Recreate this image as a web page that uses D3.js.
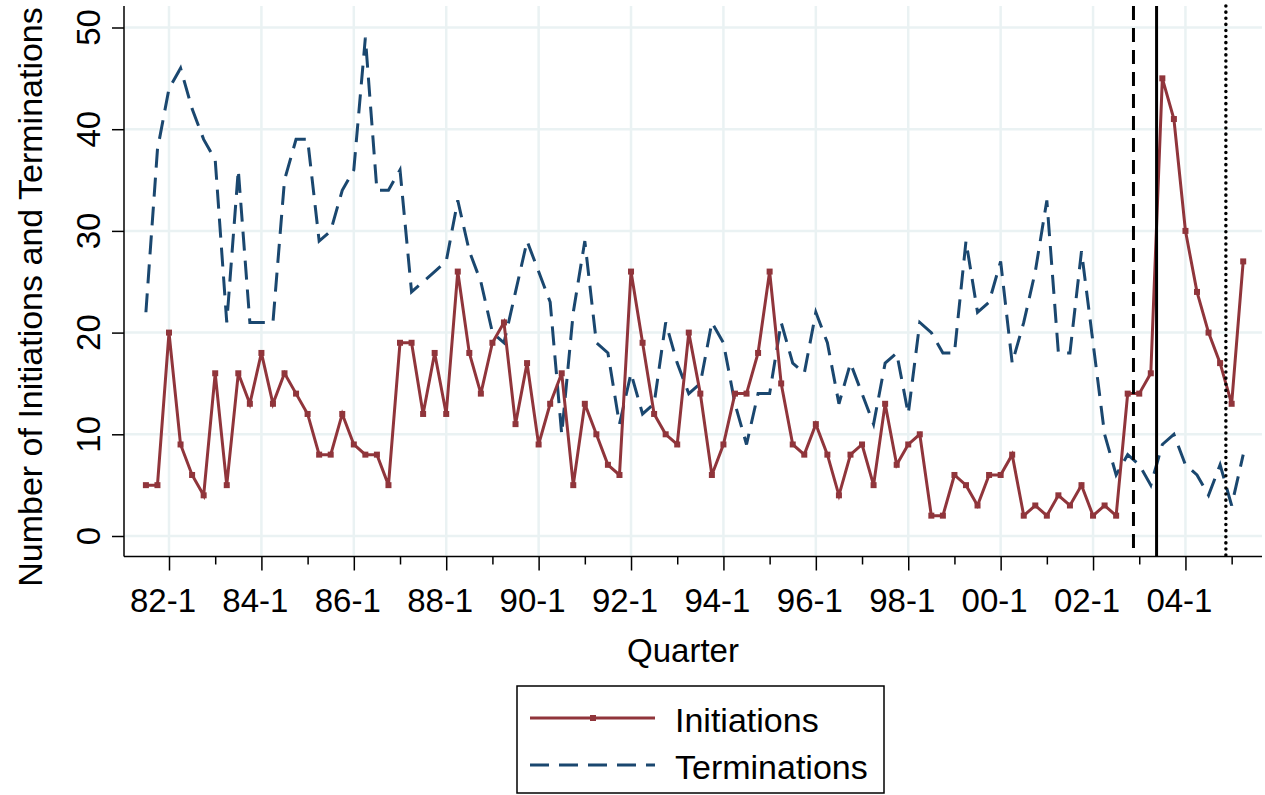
<!DOCTYPE html>
<html>
<head>
<meta charset="utf-8">
<script src="https://cdn.jsdelivr.net/npm/d3@7"></script>
<style>
  body { margin: 0; background: #fff; }
  text { font-family: "Liberation Sans", Arial, sans-serif; fill: #000; }
</style>
</head>
<body>
<div id="chart"></div>
<script>
const quarters = [
  '81-3','81-4',
  '82-1','82-2','82-3','82-4','83-1','83-2','83-3','83-4',
  '84-1','84-2','84-3','84-4','85-1','85-2','85-3','85-4',
  '86-1','86-2','86-3','86-4','87-1','87-2','87-3','87-4',
  '88-1','88-2','88-3','88-4','89-1','89-2','89-3','89-4',
  '90-1','90-2','90-3','90-4','91-1','91-2','91-3','91-4',
  '92-1','92-2','92-3','92-4','93-1','93-2','93-3','93-4',
  '94-1','94-2','94-3','94-4','95-1','95-2','95-3','95-4',
  '96-1','96-2','96-3','96-4','97-1','97-2','97-3','97-4',
  '98-1','98-2','98-3','98-4','99-1','99-2','99-3','99-4',
  '00-1','00-2','00-3','00-4','01-1','01-2','01-3','01-4',
  '02-1','02-2','02-3','02-4','03-1','03-2','03-3','03-4',
  '04-1','04-2','04-3','04-4','05-1','05-2'
];

const initiations = [
  5, 5, 20, 9, 6, 4, 16, 5, 16, 13, 18, 13, 16, 14, 12, 8,
  8, 12, 9, 8, 8, 5, 19, 19, 12, 18, 12, 26, 18, 14, 19, 21,
  11, 17, 9, 13, 16, 5, 13, 10, 7, 6, 26, 19, 12, 10, 9, 20, 14,
  6, 9, 14, 14, 18, 26, 15, 9, 8, 11, 8, 4, 8, 9, 5, 13,
  7, 9, 10, 2, 2, 6, 5, 3, 6, 6, 8, 2, 3, 2, 4, 3,
  5, 2, 3, 2, 14, 14, 16, 45, 41, 30, 24, 20, 17, 13, 27
];

const terminations = [
  22, 38, 44, 46, 42, 39, 37, 21, 36, 21, 21, 21, 35, 39, 39, 29,
  30, 34, 36, 49, 34, 34, 36, 24, 25, 26, 27, 33, 28, 25, 20, 19,
  24, 29, 26, 23, 10, 22, 29, 19, 18, 11, 16, 12, 13, 21, 17, 14, 15,
  21, 19, 13, 9, 14, 14, 21, 17, 16, 22, 19, 13, 17, 14, 11, 17,
  18, 12, 21, 20, 18, 18, 29, 22, 23, 27, 17, 21, 26, 33, 18, 18,
  28, 19, 10, 6, 8, 7, 5, 9, 10, 7, 6, 4, 7, 3, 8
];

const xTickLabels = ['82-1','84-1','86-1','88-1','90-1','92-1','94-1','96-1','98-1','00-1','02-1','04-1'];
const xMinorTicks = ['83-1','85-1','87-1','89-1','91-1','93-1','95-1','97-1','99-1','01-1','03-1','05-1'];
const yTicks = [0, 10, 20, 30, 40, 50];

// reference lines drawn half a quarter after these quarters
const eventAfter = ['02-4', '03-2', '04-4'];
const eventStyles = ['dash', 'solid', 'dot'];

const width = 1265, height = 795;
const plotLeft = 124, plotRight = 1262, plotTop = 6, plotBottom = 556.5;

const maroon = '#90353b';
const navy = '#1a476f';
const grid = '#eaf2f3';

const svg = d3.select('#chart')
    .append('svg')
    .attr('width', width)
    .attr('height', height);

const x = d3.scalePoint()
    .domain(quarters)
    .range([145.9, 1243.2]);

const y = d3.scaleLinear()
    .domain([0, 50])
    .range([536, 27.5]);

// gridlines
svg.append('g')
    .selectAll('line')
    .data(yTicks)
    .join('line')
    .attr('x1', plotLeft + 1)
    .attr('x2', plotRight)
    .attr('y1', d => y(d))
    .attr('y2', d => y(d))
    .attr('stroke', grid)
    .attr('stroke-width', 2.5);

svg.append('g')
    .selectAll('line')
    .data(xTickLabels)
    .join('line')
    .attr('x1', d => x(d))
    .attr('x2', d => x(d))
    .attr('y1', plotTop)
    .attr('y2', plotBottom - 1)
    .attr('stroke', grid)
    .attr('stroke-width', 2.5);

// y axis
const yAxis = svg.append('g')
    .attr('transform', `translate(${plotLeft},0)`)
    .call(d3.axisLeft(y).tickValues(yTicks).tickSize(12).tickPadding(0).tickSizeOuter(0));
yAxis.select('.domain').remove();
yAxis.selectAll('.tick line').attr('stroke', '#000').attr('stroke-width', 1.5);
yAxis.selectAll('.tick text').remove();
svg.append('line')
    .attr('x1', plotLeft).attr('x2', plotLeft)
    .attr('y1', plotTop).attr('y2', plotBottom)
    .attr('stroke', '#000').attr('stroke-width', 1.5);

svg.append('g')
    .selectAll('text')
    .data(yTicks)
    .join('text')
    .attr('transform', d => `translate(100,${y(d)}) rotate(-90)`)
    .attr('text-anchor', 'middle')
    .style('font-size', '33px')
    .text(d => d);

// x axis
const xAxis = svg.append('g')
    .attr('transform', `translate(0,${plotBottom})`)
    .call(d3.axisBottom(x).tickValues(xTickLabels).tickSize(14).tickSizeOuter(0));
xAxis.select('.domain').remove();
xAxis.selectAll('.tick line').attr('stroke', '#000').attr('stroke-width', 1.5);
xAxis.selectAll('.tick text').remove();

svg.append('g')
    .attr('transform', `translate(0,${plotBottom})`)
    .call(d3.axisBottom(x).tickValues(xMinorTicks).tickSize(8).tickSizeOuter(0))
    .call(g => g.select('.domain').remove())
    .call(g => g.selectAll('.tick text').remove())
    .selectAll('.tick line').attr('stroke', '#000').attr('stroke-width', 1.5);

svg.append('line')
    .attr('x1', plotLeft).attr('x2', plotRight)
    .attr('y1', plotBottom).attr('y2', plotBottom)
    .attr('stroke', '#000').attr('stroke-width', 1.5);

svg.append('g')
    .selectAll('text')
    .data(xTickLabels)
    .join('text')
    .attr('x', d => x(d) - 6)
    .attr('y', 612)
    .attr('text-anchor', 'middle')
    .style('font-size', '33px')
    .text(d => d);

// axis titles
svg.append('text')
    .attr('transform', 'translate(42,297) rotate(-90)')
    .attr('text-anchor', 'middle')
    .style('font-size', '34px')
    .text('Number of Initiations and Terminations');

svg.append('text')
    .attr('x', 683)
    .attr('y', 662)
    .attr('text-anchor', 'middle')
    .style('font-size', '33px')
    .text('Quarter');

// series
const line = d3.line()
    .x((d, i) => x(quarters[i]))
    .y(d => y(d));

svg.append('path')
    .datum(terminations)
    .attr('fill', 'none')
    .attr('stroke', navy)
    .attr('stroke-width', 3)
    .attr('stroke-dasharray', '19,10')
    .attr('d', line);

svg.append('path')
    .datum(initiations)
    .attr('fill', 'none')
    .attr('stroke', maroon)
    .attr('stroke-width', 3)
    .attr('d', line);

svg.append('g')
    .selectAll('rect')
    .data(initiations)
    .join('rect')
    .attr('x', (d, i) => x(quarters[i]) - 3)
    .attr('y', d => y(d) - 3)
    .attr('width', 6)
    .attr('height', 6)
    .attr('fill', maroon);

// event reference lines
const step = x.step();
const dashes = { dash: '14,8', solid: null, dot: '0.1,6' };
svg.append('g')
    .selectAll('line')
    .data(eventAfter)
    .join('line')
    .attr('x1', d => x(d) + step / 2)
    .attr('x2', d => x(d) + step / 2)
    .attr('y1', plotTop)
    .attr('y2', plotBottom)
    .attr('stroke', '#000')
    .attr('stroke-width', (d, i) => eventStyles[i] === 'dot' ? 3.5 : 3)
    .attr('stroke-linecap', (d, i) => eventStyles[i] === 'dot' ? 'round' : 'butt')
    .attr('stroke-dasharray', (d, i) => dashes[eventStyles[i]]);

// legend
const legend = svg.append('g');
legend.append('rect')
    .attr('x', 517).attr('y', 686)
    .attr('width', 367).attr('height', 107)
    .attr('fill', '#fff')
    .attr('stroke', '#000')
    .attr('stroke-width', 1.5);

legend.append('line')
    .attr('x1', 530).attr('x2', 655)
    .attr('y1', 718).attr('y2', 718)
    .attr('stroke', maroon).attr('stroke-width', 3);
legend.append('rect')
    .attr('x', 590).attr('y', 715)
    .attr('width', 6).attr('height', 6)
    .attr('fill', maroon);
legend.append('line')
    .attr('x1', 530).attr('x2', 655)
    .attr('y1', 765).attr('y2', 765)
    .attr('stroke', navy).attr('stroke-width', 3)
    .attr('stroke-dasharray', '19,10');

legend.append('text')
    .attr('x', 675).attr('y', 732)
    .style('font-size', '34px')
    .text('Initiations');
legend.append('text')
    .attr('x', 675).attr('y', 779)
    .style('font-size', '34px')
    .text('Terminations');
</script>
</body>
</html>
